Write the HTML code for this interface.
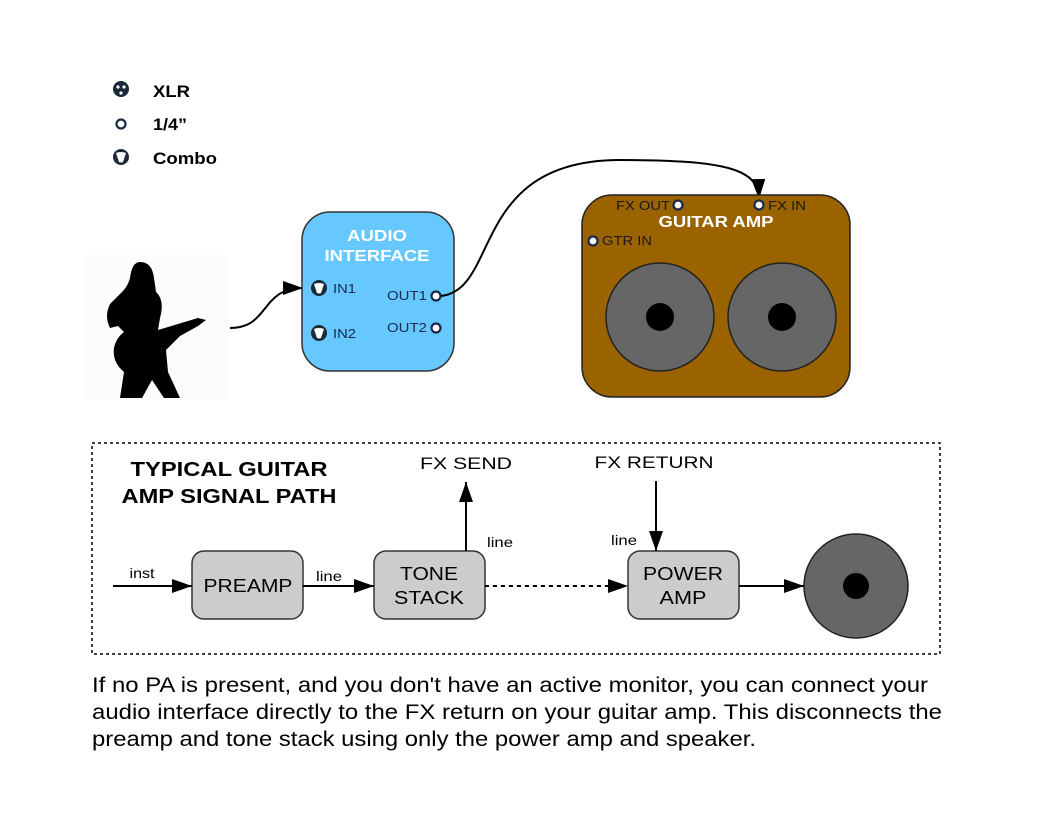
<!DOCTYPE html>
<html><head><meta charset="utf-8"><style>
body{margin:0;background:#fff}
svg{display:block;font-family:"Liberation Sans",sans-serif}
</style></head><body>
<svg width="1056" height="816" viewBox="0 0 1056 816" xmlns="http://www.w3.org/2000/svg">
<defs>
<marker id="a2" viewBox="0 0 20 14" markerWidth="20" markerHeight="14" refX="20" refY="7" orient="auto" markerUnits="userSpaceOnUse"><path d="M0,0 L20,7 L0,14z" fill="#000"/></marker>
<g id="combo"><circle r="8" fill="#1a2a3a"/><path d="M-5,-4 Q0,-6 5,-4 L2,5 Q0,6 -2,5z" fill="#fff"/></g>
<g id="q"><circle r="4.5" fill="#fff" stroke="#1a2a4a" stroke-width="2.2"/></g>
</defs>
<rect x="85" y="255" width="143" height="145" fill="#fcfcfc"/>
<!-- legend -->
<circle cx="121" cy="89" r="8" fill="#1a2a3a"/><circle cx="118" cy="87" r="1.6" fill="#fff"/><circle cx="124" cy="87" r="1.6" fill="#fff"/><circle cx="121" cy="93" r="1.6" fill="#fff"/>
<text x="153" y="97" font-size="17" font-weight="bold" textLength="37" lengthAdjust="spacingAndGlyphs">XLR</text>
<use href="#q" x="121" y="124"/>
<text x="153" y="130" font-size="17" font-weight="bold" textLength="34" lengthAdjust="spacingAndGlyphs">1/4”</text>
<use href="#combo" x="121" y="157"/>
<text x="153" y="164" font-size="17" font-weight="bold" textLength="64" lengthAdjust="spacingAndGlyphs">Combo</text>
<!-- guitarist -->
<path d="M140,262 Q152,262 154,278 L156,292 Q165,300 160,318 L158,330 L178,324 L198,318 L206,320 L198,326 L180,336 L166,350 L168,372 L180,398 L164,398 L152,380 L142,398 L120,398 L124,372 Q112,362 114,348 Q116,338 124,332 L118,326 L110,328 Q104,316 110,304 L122,292 Q128,286 130,278 Q132,262 140,262z" fill="#000"/>
<path d="M230,328 C270,328 260,288 303,288" fill="none" stroke="#000" stroke-width="2" marker-end="url(#a2)"/>
<!-- audio interface -->
<rect x="302" y="212" width="152" height="159" rx="28" fill="#66c8ff" stroke="#333" stroke-width="1.5"/>
<text x="377" y="241" font-size="16" font-weight="bold" fill="#fff" text-anchor="middle" textLength="60" lengthAdjust="spacingAndGlyphs">AUDIO</text>
<text x="377" y="261" font-size="16" font-weight="bold" fill="#fff" text-anchor="middle" textLength="105" lengthAdjust="spacingAndGlyphs">INTERFACE</text>
<use href="#combo" x="319" y="288"/><text x="333" y="293" font-size="13" fill="#1a2a4a" textLength="23" lengthAdjust="spacingAndGlyphs">IN1</text>
<use href="#combo" x="319" y="333"/><text x="333" y="338" font-size="13" fill="#1a2a4a" textLength="23" lengthAdjust="spacingAndGlyphs">IN2</text>
<text x="387" y="300" font-size="13" fill="#1a2a4a" textLength="40" lengthAdjust="spacingAndGlyphs">OUT1</text><use href="#q" x="436" y="296"/>
<text x="387" y="332" font-size="13" fill="#1a2a4a" textLength="40" lengthAdjust="spacingAndGlyphs">OUT2</text><use href="#q" x="436" y="328"/>
<path d="M441,296 C500,290 470,160 620,160 C730,160 758,170 759,199" fill="none" stroke="#000" stroke-width="2" marker-end="url(#a2)"/>
<!-- guitar amp -->
<rect x="582" y="195" width="268" height="202" rx="30" fill="#9a6300" stroke="#222" stroke-width="1.5"/>
<text x="616" y="210" font-size="13" fill="#1a1a1a" textLength="54" lengthAdjust="spacingAndGlyphs">FX OUT</text><use href="#q" x="678" y="205"/>
<use href="#q" x="759" y="205"/><text x="768" y="210" font-size="13" fill="#1a1a1a" textLength="38" lengthAdjust="spacingAndGlyphs">FX IN</text>
<text x="716" y="227" font-size="16" font-weight="bold" fill="#fff" text-anchor="middle" textLength="115" lengthAdjust="spacingAndGlyphs">GUITAR AMP</text>
<use href="#q" x="593" y="241"/><text x="602" y="245" font-size="13" fill="#1a1a1a" textLength="50" lengthAdjust="spacingAndGlyphs">GTR IN</text>
<circle cx="660" cy="317" r="54" fill="#666" stroke="#222" stroke-width="1.5"/><circle cx="660" cy="317" r="14" fill="#000"/>
<circle cx="782" cy="317" r="54" fill="#666" stroke="#222" stroke-width="1.5"/><circle cx="782" cy="317" r="14" fill="#000"/>
<!-- signal path -->
<rect x="92" y="443" width="848" height="211" fill="none" stroke="#000" stroke-width="1.5" stroke-dasharray="3,3"/>
<text x="229" y="476" font-size="20" font-weight="bold" text-anchor="middle" textLength="197" lengthAdjust="spacingAndGlyphs">TYPICAL GUITAR</text>
<text x="229" y="503" font-size="20" font-weight="bold" text-anchor="middle" textLength="215" lengthAdjust="spacingAndGlyphs">AMP SIGNAL PATH</text>
<text x="466" y="469" font-size="17" text-anchor="middle" textLength="92" lengthAdjust="spacingAndGlyphs">FX SEND</text>
<text x="654" y="468" font-size="17" text-anchor="middle" textLength="119" lengthAdjust="spacingAndGlyphs">FX RETURN</text>
<rect x="192" y="551" width="111" height="68" rx="12" fill="#ccc" stroke="#333" stroke-width="1.5"/>
<text x="248" y="592" font-size="18" text-anchor="middle" textLength="89" lengthAdjust="spacingAndGlyphs">PREAMP</text>
<rect x="374" y="551" width="111" height="68" rx="12" fill="#ccc" stroke="#333" stroke-width="1.5"/>
<text x="429" y="580" font-size="18" text-anchor="middle" textLength="58" lengthAdjust="spacingAndGlyphs">TONE</text>
<text x="429" y="604" font-size="18" text-anchor="middle" textLength="70" lengthAdjust="spacingAndGlyphs">STACK</text>
<rect x="628" y="551" width="111" height="68" rx="12" fill="#ccc" stroke="#333" stroke-width="1.5"/>
<text x="683" y="580" font-size="18" text-anchor="middle" textLength="80" lengthAdjust="spacingAndGlyphs">POWER</text>
<text x="683" y="604" font-size="18" text-anchor="middle" textLength="47" lengthAdjust="spacingAndGlyphs">AMP</text>
<circle cx="856" cy="586" r="52" fill="#666" stroke="#222" stroke-width="1.5"/><circle cx="856" cy="586" r="13" fill="#000"/>
<line x1="113" y1="586" x2="192" y2="586" stroke="#000" stroke-width="2" marker-end="url(#a2)"/>
<text x="142" y="578" font-size="14" text-anchor="middle" textLength="25" lengthAdjust="spacingAndGlyphs">inst</text>
<line x1="303" y1="586" x2="374" y2="586" stroke="#000" stroke-width="2" marker-end="url(#a2)"/>
<text x="329" y="581" font-size="14" text-anchor="middle" textLength="26" lengthAdjust="spacingAndGlyphs">line</text>
<line x1="466" y1="551" x2="466" y2="482" stroke="#000" stroke-width="2" marker-end="url(#a2)"/>
<text x="500" y="547" font-size="14" text-anchor="middle" textLength="26" lengthAdjust="spacingAndGlyphs">line</text>
<line x1="485" y1="586" x2="628" y2="586" stroke="#000" stroke-width="2" stroke-dasharray="4,4" marker-end="url(#a2)"/>
<line x1="656" y1="481" x2="656" y2="551" stroke="#000" stroke-width="2" marker-end="url(#a2)"/>
<text x="624" y="545" font-size="14" text-anchor="middle" textLength="26" lengthAdjust="spacingAndGlyphs">line</text>
<line x1="739" y1="586" x2="804" y2="586" stroke="#000" stroke-width="2" marker-end="url(#a2)"/>
<text x="92" y="692" font-size="21" textLength="836" lengthAdjust="spacingAndGlyphs">If no PA is present, and you don't have an active monitor, you can connect your</text>
<text x="92" y="719" font-size="21" textLength="850" lengthAdjust="spacingAndGlyphs">audio interface directly to the FX return on your guitar amp. This disconnects the</text>
<text x="92" y="746" font-size="21" textLength="664" lengthAdjust="spacingAndGlyphs">preamp and tone stack using only the power amp and speaker.</text>
</svg>
</body></html>
